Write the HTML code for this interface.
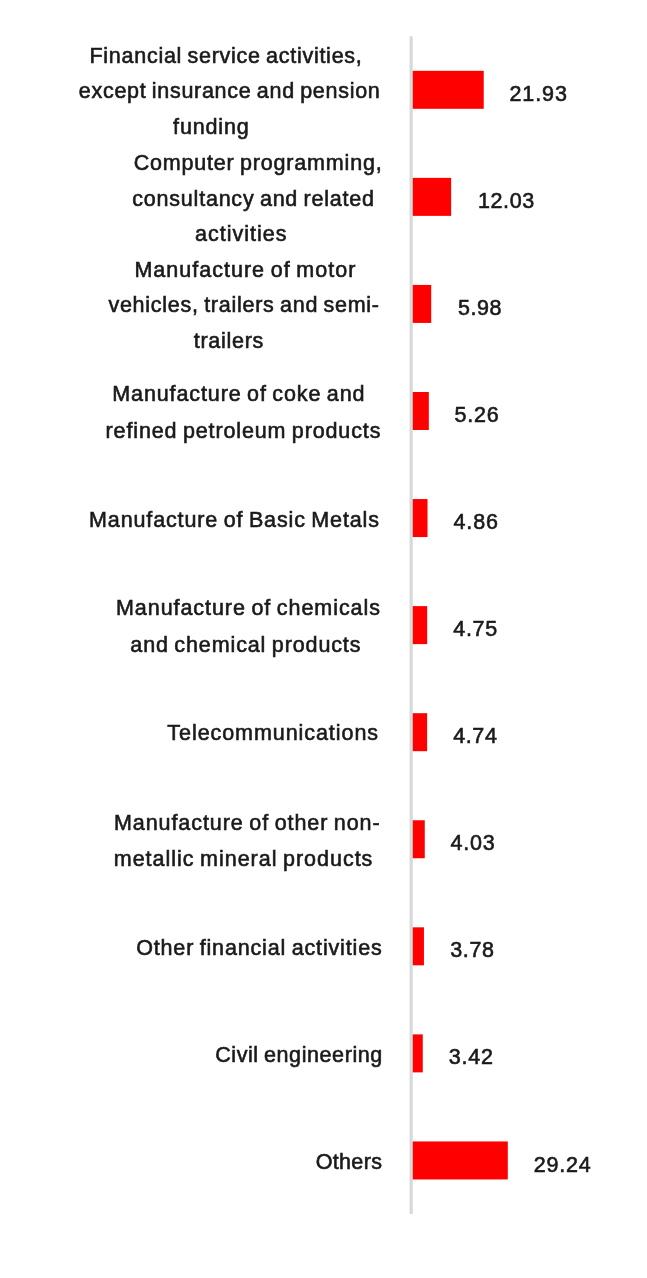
<!DOCTYPE html><html><head><meta charset="utf-8"><title>Chart</title><style>
html,body{margin:0;padding:0;background:#fff}
body{width:647px;height:1278px;position:relative;overflow:hidden}
.t{position:absolute;white-space:nowrap;font:21.5px/1 "Liberation Sans",sans-serif;color:#1a1a1a;margin:0;word-spacing:-1.3px;-webkit-text-stroke:0.6px #1a1a1a}
</style></head><body>
<svg width="647" height="1278" viewBox="0 0 647 1278" style="position:absolute;left:0;top:0">
<rect x="411.5" y="70.80" width="72.23" height="38.0" fill="#ff0000"/>
<rect x="411.5" y="177.87" width="39.62" height="38.0" fill="#ff0000"/>
<rect x="411.5" y="284.93" width="19.70" height="38.0" fill="#ff0000"/>
<rect x="411.5" y="391.99" width="17.32" height="38.0" fill="#ff0000"/>
<rect x="411.5" y="499.06" width="16.01" height="38.0" fill="#ff0000"/>
<rect x="411.5" y="606.12" width="15.65" height="38.0" fill="#ff0000"/>
<rect x="411.5" y="713.19" width="15.61" height="38.0" fill="#ff0000"/>
<rect x="411.5" y="820.25" width="13.27" height="38.0" fill="#ff0000"/>
<rect x="411.5" y="927.32" width="12.45" height="38.0" fill="#ff0000"/>
<rect x="411.5" y="1034.38" width="11.26" height="38.0" fill="#ff0000"/>
<rect x="411.5" y="1141.45" width="96.31" height="38.0" fill="#ff0000"/>
<rect x="409.55" y="36.27" width="3.25" height="1177.71" fill="#d9d9d9"/>
</svg>
<div class="t" style="left:89.50px;top:45.70px;letter-spacing:0.727px">Financial service activities,</div>
<div class="t" style="left:78.80px;top:81.40px;letter-spacing:0.711px">except insurance and pension</div>
<div class="t" style="left:173.10px;top:117.10px;letter-spacing:0.833px">funding</div>
<div class="t" style="left:133.65px;top:152.90px;letter-spacing:0.815px">Computer programming,</div>
<div class="t" style="left:132.30px;top:188.60px;letter-spacing:0.782px">consultancy and related</div>
<div class="t" style="left:195.10px;top:224.30px;letter-spacing:1.000px">activities</div>
<div class="t" style="left:134.40px;top:259.70px;letter-spacing:1.013px">Manufacture of motor</div>
<div class="t" style="left:108.45px;top:295.40px;letter-spacing:0.739px">vehicles, trailers and semi-</div>
<div class="t" style="left:193.70px;top:331.10px;letter-spacing:0.729px">trailers</div>
<div class="t" style="left:112.30px;top:383.80px;letter-spacing:0.882px">Manufacture of coke and</div>
<div class="t" style="left:105.55px;top:420.50px;letter-spacing:0.868px">refined petroleum products</div>
<div class="t" style="left:89.10px;top:509.90px;letter-spacing:0.867px">Manufacture of Basic Metals</div>
<div class="t" style="left:116.00px;top:598.10px;letter-spacing:0.939px">Manufacture of chemicals</div>
<div class="t" style="left:130.30px;top:634.80px;letter-spacing:0.883px">and chemical products</div>
<div class="t" style="left:167.35px;top:723.40px;letter-spacing:0.935px">Telecommunications</div>
<div class="t" style="left:114.00px;top:812.70px;letter-spacing:0.923px">Manufacture of other non-</div>
<div class="t" style="left:113.75px;top:849.10px;letter-spacing:0.975px">metallic mineral products</div>
<div class="t" style="left:136.15px;top:937.90px;letter-spacing:0.846px">Other financial activities</div>
<div class="t" style="left:215.15px;top:1044.90px;letter-spacing:0.594px">Civil engineering</div>
<div class="t" style="left:315.65px;top:1151.60px;letter-spacing:0.350px">Others</div>
<div class="t" style="left:509.45px;top:83.90px;letter-spacing:0.925px">21.93</div>
<div class="t" style="left:478.05px;top:190.97px;letter-spacing:0.575px">12.03</div>
<div class="t" style="left:458.10px;top:298.03px;letter-spacing:0.517px">5.98</div>
<div class="t" style="left:454.52px;top:405.10px;letter-spacing:0.817px">5.26</div>
<div class="t" style="left:453.46px;top:512.16px;letter-spacing:0.900px">4.86</div>
<div class="t" style="left:453.30px;top:619.23px;letter-spacing:0.667px">4.75</div>
<div class="t" style="left:453.26px;top:726.29px;letter-spacing:0.583px">4.74</div>
<div class="t" style="left:450.62px;top:833.36px;letter-spacing:0.767px">4.03</div>
<div class="t" style="left:450.25px;top:940.42px;letter-spacing:0.617px">3.78</div>
<div class="t" style="left:448.66px;top:1047.49px;letter-spacing:0.833px">3.42</div>
<div class="t" style="left:533.66px;top:1154.55px;letter-spacing:0.812px">29.24</div>
</body></html>
